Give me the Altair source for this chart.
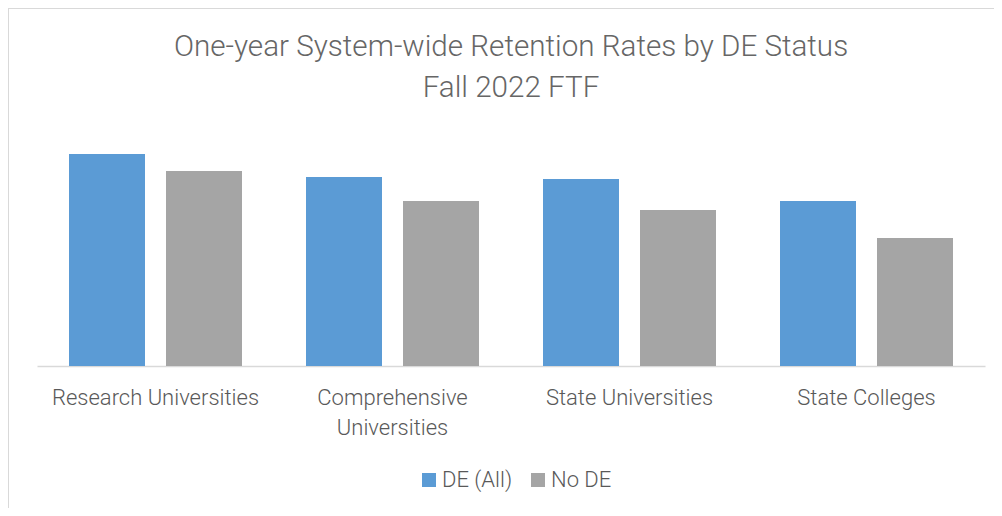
import altair as alt
import pandas as pd

categories = ["Research Universities", "Comprehensive Universities", "State Universities", "State Colleges"]
statuses = ["DE (All)", "No DE"]
de_all = [91.4, 81.5, 80.6, 71.1]
no_de = [84.1, 71.1, 67.2, 55.2]
colors = ["#5B9BD5", "#A5A5A5"]
title_lines = ["One-year System-wide Retention Rates by DE Status", "Fall 2022 FTF"]

rows = []
for c, a, b in zip(categories, de_all, no_de):
    rows.append({"category": c, "status": statuses[0], "rate": a})
    rows.append({"category": c, "status": statuses[1], "rate": b})
df = pd.DataFrame(rows)

FONT = "Roboto"
TXT = "#595959"

bars = alt.Chart(df).mark_bar().encode(
    x=alt.X("category:N", sort=categories,
            scale=alt.Scale(paddingInner=0, paddingOuter=0),
            axis=alt.Axis(title=None, labelAngle=0, ticks=False, domainColor="#d9d9d9",
                          domainWidth=1.5, labelFont=FONT, labelFontSize=22, labelFontWeight=300,
                          labelColor=TXT, labelPadding=21, labelLimit=0, labelLineHeight=30,
                          labelExpr="datum.label == 'Comprehensive Universities' ? ['Comprehensive', 'Universities'] : datum.label")),
    xOffset=alt.XOffset("status:N", sort=statuses,
                        scale=alt.Scale(paddingInner=0.2165, paddingOuter=0.33)),
    y=alt.Y("rate:Q", scale=alt.Scale(domain=[0, 100]), axis=None),
    color=alt.Color("status:N", sort=statuses,
                    scale=alt.Scale(domain=statuses, range=colors),
                    legend=alt.Legend(title=None, orient="none", direction="horizontal",
                                      legendX=381, legendY=335, symbolType="square",
                                      symbolSize=196, symbolStrokeWidth=0, labelFont=FONT,
                                      labelFontSize=22, labelFontWeight=300, labelColor=TXT,
                                      labelOffset=2, columnPadding=14)),
)

frame_top = alt.Chart(df).mark_rule(color="#d9d9d9", strokeWidth=2).encode(
    x=alt.value(-29), x2=alt.value(980), y=alt.value(-126))
frame_left = alt.Chart(df).mark_rule(color="#d9d9d9", strokeWidth=2).encode(
    x=alt.value(-29), y=alt.value(-126), y2=alt.value(400))

tdf = pd.DataFrame({"line": title_lines, "idx": [0, 1]})
title1 = alt.Chart(tdf).transform_filter("datum.idx == 0").mark_text(
    font=FONT, fontSize=29.6, fontWeight=300, color="#666666", baseline="middle", align="center"
).encode(text="line:N", x=alt.value(474), y=alt.value(-87))
title2 = alt.Chart(tdf).transform_filter("datum.idx == 1").mark_text(
    font=FONT, fontSize=29.6, fontWeight=300, color="#666666", baseline="middle", align="center"
).encode(text="line:N", x=alt.value(474), y=alt.value(-46))

chart = alt.layer(frame_top, frame_left, title1, title2, bars).properties(
    width=948, height=232,
    autosize=alt.AutoSizeParams(type="none"),
    padding={"left": 29, "top": 126, "right": 9, "bottom": 142},
).configure_view(stroke=None)

chart.save("out.html", embed_options={"renderer": "svg", "actions": False})
